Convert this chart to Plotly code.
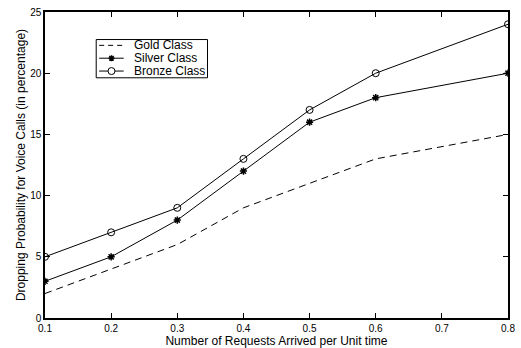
import plotly.graph_objects as go

x_vals = [0.1, 0.2, 0.3, 0.4, 0.5, 0.6, 0.8]
gold = [2, 4, 6, 9, 11, 13, 15]
silver = [3, 5, 8, 12, 16, 18, 20]
bronze = [5, 7, 9, 13, 17, 20, 24]
x_ticks = [0.1, 0.2, 0.3, 0.4, 0.5, 0.6, 0.7, 0.8]
y_ticks = [0, 5, 10, 15, 20, 25]
series_names = ["Gold Class", "Silver Class", "Bronze Class"]

fig = go.Figure()
fig.add_trace(go.Scatter(x=x_vals, y=gold, mode="lines", name=series_names[0],
                         line=dict(color="black", width=1, dash="7px,5px")))
fig.add_trace(go.Scatter(x=x_vals, y=silver, mode="lines+markers", name=series_names[1],
                         line=dict(color="black", width=1),
                         marker=dict(symbol="asterisk-open", size=6, color="black",
                                     line=dict(color="black", width=1.5))))
fig.add_trace(go.Scatter(x=x_vals, y=bronze, mode="lines+markers", name=series_names[2],
                         line=dict(color="black", width=1),
                         marker=dict(symbol="circle-open", size=7, color="black",
                                     line=dict(color="black", width=1))))

font_family = "Liberation Sans, Arial, sans-serif"

# compact MATLAB-style legend drawn with layout shapes and annotations
box = dict(x0=0.1106, x1=0.351, y0=0.785, y1=0.910)
row_y = [0.891, 0.849, 0.807]
line_x0, line_x1, mark_x, text_x = 0.117, 0.170, 0.1436, 0.1872
shapes = [dict(type="rect", xref="paper", yref="paper", **box,
               line=dict(color="black", width=1), fillcolor="white", layer="above")]
annotations = []
dashes = ["5px,4px", "solid", "solid"]
for i, name in enumerate(series_names):
    shapes.append(dict(type="line", xref="paper", yref="paper",
                       x0=line_x0, x1=line_x1, y0=row_y[i], y1=row_y[i],
                       line=dict(color="black", width=1, dash=dashes[i]), layer="above"))
    annotations.append(dict(text=name, xref="paper", yref="paper", x=text_x, y=row_y[i],
                            xanchor="left", yanchor="middle", showarrow=False,
                            font=dict(size=12, family=font_family, color="black")))
shapes.append(dict(type="path", xref="paper", yref="paper", xsizemode="pixel",
                   ysizemode="pixel", xanchor=mark_x, yanchor=row_y[1],
                   path="M-3,0 L3,0 M0,-3 L0,3 M-2.2,-2.2 L2.2,2.2 M-2.2,2.2 L2.2,-2.2",
                   line=dict(color="black", width=1.5), layer="above"))
shapes.append(dict(type="circle", xref="paper", yref="paper", xsizemode="pixel",
                   ysizemode="pixel", xanchor=mark_x, yanchor=row_y[2],
                   x0=-3.5, x1=3.5, y0=-3.5, y1=3.5, fillcolor="white",
                   line=dict(color="black", width=1), layer="above"))

fig.update_layout(
    width=521, height=348,
    margin=dict(l=45, r=6, t=10, b=27),
    paper_bgcolor="white", plot_bgcolor="white",
    font=dict(family=font_family, size=10, color="black"),
    showlegend=False,
    shapes=shapes,
    annotations=annotations,
    xaxis=dict(range=[0.1, 0.8], tickvals=x_ticks, ticktext=[str(v) for v in x_ticks],
               ticks="inside", ticklen=5, tickcolor="black", showline=True,
               linecolor="black", linewidth=1.5, mirror="ticks", showgrid=False,
               zeroline=False,
               title=dict(text="Number of Requests Arrived per Unit time",
                          font=dict(size=12), standoff=0)),
    yaxis=dict(range=[0, 25], tickvals=y_ticks,
               ticks="inside", ticklen=5, tickcolor="black", showline=True,
               linecolor="black", linewidth=1.5, mirror="ticks", showgrid=False,
               zeroline=False,
               title=dict(text="Dropping Probability for Voice Calls (in percentage)",
                          font=dict(size=12), standoff=2)),
)
fig.write_html("out.html")
